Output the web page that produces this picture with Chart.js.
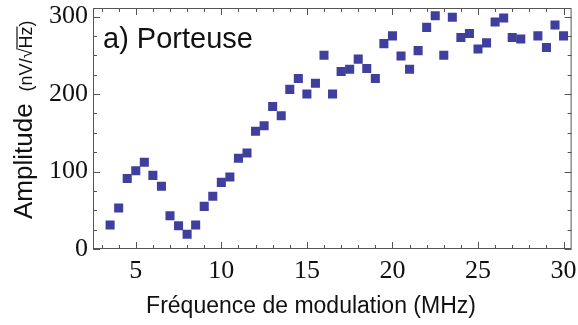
<!DOCTYPE html>
<html>
<head>
<meta charset="utf-8">
<script src="https://cdn.jsdelivr.net/npm/chart.js@4/dist/chart.umd.min.js"></script>
<style>
  html, body { margin: 0; padding: 0; background: #fff; }
  #wrap { width: 578px; height: 325px; }
</style>
</head>
<body>
<div id="wrap"><canvas id="chart" width="578" height="325"></canvas></div>
<script>
// Modulation frequency (MHz)
const frequencies = [
  3.5, 4.0, 4.5, 5.0, 5.5, 6.0, 6.5, 7.0, 7.5, 8.0,
  8.5, 9.0, 9.5, 10.0, 10.5, 11.0, 11.5, 12.0, 12.5, 13.0,
  13.5, 14.0, 14.5, 15.0, 15.5, 16.0, 16.5, 17.0, 17.5, 18.0,
  18.5, 19.0, 19.5, 20.0, 20.5, 21.0, 21.5, 22.0, 22.5, 23.0,
  23.5, 24.0, 24.5, 25.0, 25.5, 26.0, 26.5, 27.0, 27.5,
  28.5, 29.0, 29.5, 30.0
];

// Amplitude (nV/sqrt(Hz))
const amplitudes = [
  31, 53, 91, 101, 112, 95, 81, 43, 30, 19,
  31, 55, 68, 86, 93, 117, 124, 152, 159, 184,
  172, 206, 220, 200, 214, 250, 200, 229, 232, 245,
  233, 220, 265, 275, 249, 232, 256, 286, 301, 250,
  299, 273, 278, 258, 266, 293, 298, 273, 271,
  275, 260, 289, 275
];

const xMajorTicks = [5, 10, 15, 20, 25, 30];
const xMinorTicks = [3, 4, 6, 7, 8, 9, 11, 12, 13, 14, 16, 17, 18, 19, 21, 22, 23, 24, 26, 27, 28, 29];
const yMajorTicks = [0, 100, 200, 300];
const yMinorTicks = [25, 50, 75, 125, 150, 175, 225, 250, 275];

const panelLabel = 'a) Porteuse';
const xTitle = 'Fréquence de modulation (MHz)';
const yTitle = 'Amplitude';
const yUnit = ['(nV/', '\u221A', 'Hz', ')'];

const FRAME_COLOR = '#555';
const SANS = "'Liberation Sans', Arial, sans-serif";
const SERIF = "'Liberation Serif', 'Times New Roman', serif";

// Mathematica style frame: box with inward ticks on every side
const framePlugin = {
  id: 'frame',
  afterDatasetsDraw(chart) {
    const ctx = chart.ctx;
    const area = chart.chartArea;
    const xs = chart.scales.x;
    const ys = chart.scales.y;

    ctx.save();
    ctx.strokeStyle = FRAME_COLOR;
    ctx.lineWidth = 1;
    ctx.strokeRect(area.left + 0.5, area.top + 0.5, area.right - area.left - 1, area.bottom - area.top - 1);

    const xTick = (v, len) => {
      const px = Math.round(xs.getPixelForValue(v)) + 0.5;
      ctx.moveTo(px, area.bottom);
      ctx.lineTo(px, area.bottom - len);
      ctx.moveTo(px, area.top);
      ctx.lineTo(px, area.top + len);
    };
    const yTick = (v, len) => {
      const py = Math.round(ys.getPixelForValue(v)) + 0.5;
      ctx.moveTo(area.left, py);
      ctx.lineTo(area.left + len, py);
      ctx.moveTo(area.right, py);
      ctx.lineTo(area.right - len, py);
    };

    ctx.beginPath();
    xMajorTicks.forEach(v => xTick(v, 7));
    xMinorTicks.forEach(v => xTick(v, 4));
    yMajorTicks.forEach(v => yTick(v, 7));
    yMinorTicks.forEach(v => yTick(v, 4));
    ctx.stroke();
    ctx.restore();
  }
};

// Axis titles and the panel label
const labelsPlugin = {
  id: 'labels',
  afterDraw(chart) {
    const ctx = chart.ctx;
    ctx.save();
    ctx.fillStyle = '#111';

    // panel label inside the frame
    ctx.font = '29px ' + SANS;
    ctx.textAlign = 'left';
    ctx.textBaseline = 'alphabetic';
    ctx.fillText(panelLabel, 103, 48);

    // x title
    ctx.font = '23px ' + SANS;
    ctx.textAlign = 'center';
    ctx.fillText(xTitle, 311, 313);

    // y title, rotated, with a smaller unit part
    ctx.translate(32, 219);
    ctx.rotate(-Math.PI / 2);
    ctx.textAlign = 'left';
    ctx.font = '26px ' + SANS;
    ctx.fillText(yTitle, 0, 0);
    let x = ctx.measureText(yTitle).width + 12;

    ctx.font = '18px ' + SANS;
    ctx.fillText(yUnit[0], x, 0);
    x += ctx.measureText(yUnit[0]).width;
    ctx.fillText(yUnit[1], x, 0);
    x += ctx.measureText(yUnit[1]).width;
    const hzWidth = ctx.measureText(yUnit[2]).width;
    ctx.fillText(yUnit[2], x, 0);
    // radical bar over Hz
    ctx.strokeStyle = '#111';
    ctx.lineWidth = 1.2;
    ctx.beginPath();
    ctx.moveTo(x - 1, -15);
    ctx.lineTo(x + hzWidth, -15);
    ctx.stroke();
    x += hzWidth;
    ctx.fillText(yUnit[3], x, 0);

    ctx.restore();
  }
};

const ctx = document.getElementById('chart');

new Chart(ctx, {
  type: 'scatter',
  data: {
    datasets: [{
      label: 'Porteuse',
      data: frequencies.map((f, i) => ({ x: f, y: amplitudes[i] })),
      pointStyle: 'rect',
      pointRadius: 6.4,
      pointHoverRadius: 6.4,
      pointBorderWidth: 0,
      backgroundColor: '#3f3f9d',
      borderColor: '#3f3f9d'
    }]
  },
  options: {
    responsive: false,
    animation: false,
    events: [],
    layout: {
      padding: { left: 0, right: 6, top: 8, bottom: 0 }
    },
    plugins: {
      legend: { display: false },
      tooltip: { enabled: false }
    },
    scales: {
      x: {
        type: 'linear',
        min: 2.5,
        max: 30.47,
        afterBuildTicks: scale => {
          scale.ticks = xMajorTicks.map(v => ({ value: v }));
        },
        afterFit: scale => {
          scale.height = 76;
          // let the last label hang past the frame, like the original
          scale.paddingLeft = 0;
          scale.paddingRight = 0;
        },
        grid: { display: false, drawTicks: false },
        border: { display: false },
        ticks: {
          color: '#111',
          padding: 7,
          maxRotation: 0,
          font: { family: SERIF, size: 26 }
        }
      },
      y: {
        type: 'linear',
        min: 0,
        max: 311,
        afterBuildTicks: scale => {
          scale.ticks = yMajorTicks.map(v => ({ value: v }));
        },
        afterFit: scale => {
          scale.width = 93;
          scale.paddingTop = 0;
          scale.paddingBottom = 0;
        },
        grid: { display: false, drawTicks: false },
        border: { display: false },
        ticks: {
          color: '#111',
          padding: 5,
          font: { family: SERIF, size: 26 }
        }
      }
    }
  },
  plugins: [framePlugin, labelsPlugin]
});
</script>
</body>
</html>
